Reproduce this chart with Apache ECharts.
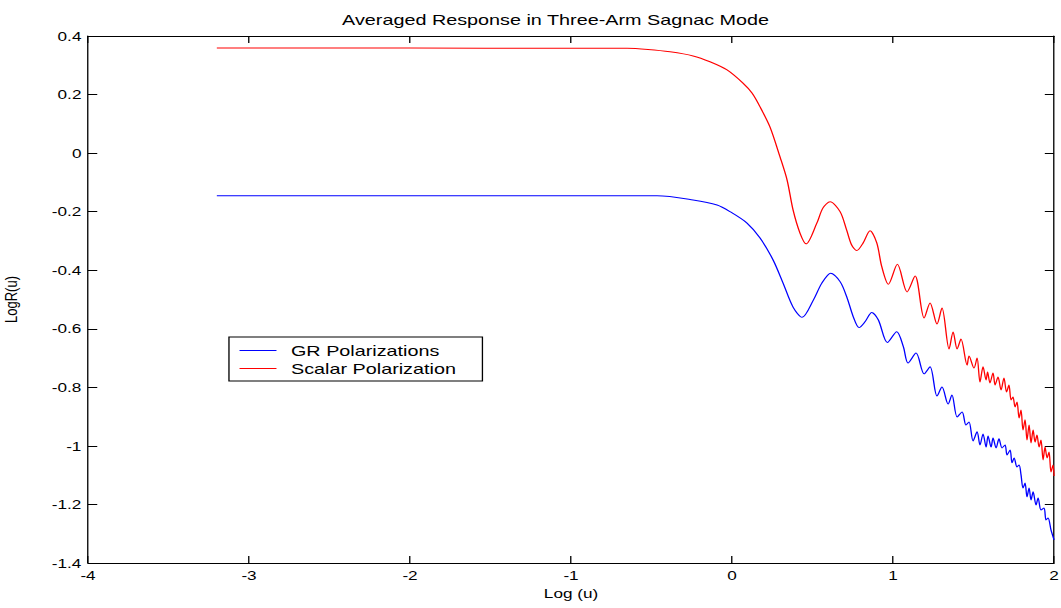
<!DOCTYPE html>
<html>
<head>
<meta charset="utf-8">
<script src="https://cdn.jsdelivr.net/npm/echarts@6/dist/echarts.min.js"></script>
<style>
html,body{margin:0;padding:0;background:#fff;overflow:hidden;}
#main{width:804px;height:608px;transform:scaleX(1.3197);transform-origin:0 0;}
</style>
</head>
<body>
<div id="main"></div>
<script>
// Data
var titleText = 'Averaged Response in Three-Arm Sagnac Mode';
var xName = 'Log (u)';
var yName = 'LogR(u)';
var seriesNames = ['GR Polarizations', 'Scalar Polarization'];

var redX = [-3.2,-2.0,-1.068,-0.652,-0.522,-0.385,-0.242,-0.137,-0.031,0.068,0.124,0.174,0.236,0.298,0.342,0.379,0.422,0.460,
  0.526,0.565,0.609,0.671,0.712,0.743,0.775,0.814,0.857,0.899,0.930,0.971,1.027,1.087,1.137,1.193,1.230,1.273,1.304,1.348,1.373,
  1.398,1.422,1.460,1.472,1.503,1.522,1.540,1.559,1.578,1.587,1.602,1.621,1.634,1.652,1.671,1.689,1.705,1.720,1.733,1.745,1.758,
  1.770,1.783,1.795,1.807,1.820,1.832,1.845,1.857,1.870,1.882,1.894,1.907,1.919,1.932,1.944,1.957,1.969,1.981,1.994,2.0];
var redY = [0.359,0.359,0.358,0.358,0.354,0.346,0.332,0.312,0.284,0.239,0.205,0.158,0.089,-0.013,-0.092,-0.194,-0.273,-0.310,
  -0.240,-0.187,-0.166,-0.200,-0.263,-0.314,-0.333,-0.307,-0.265,-0.307,-0.388,-0.448,-0.380,-0.474,-0.420,-0.563,-0.512,-0.584,-0.529,-0.669,-0.611,
  -0.669,-0.635,-0.724,-0.693,-0.734,-0.700,-0.782,-0.730,-0.775,-0.748,-0.785,-0.751,-0.792,-0.765,-0.809,-0.768,-0.816,-0.792,-0.843,-0.833,-0.867,
  -0.850,-0.905,-0.877,-0.946,-0.911,-0.980,-0.929,-0.990,-0.946,-0.987,-0.963,-1.004,-0.980,-1.048,-1.004,-1.041,-1.021,-1.089,-1.065,-1.103];

var blueX = [-3.2,-1.0,-0.466,-0.242,-0.093,-0.012,0.093,0.174,0.255,0.317,0.379,0.435,0.505,0.557,0.613,0.671,0.712,0.753,0.789,
  0.826,0.868,0.909,0.965,1.023,1.064,1.093,1.143,1.193,1.230,1.273,1.304,1.342,1.366,1.398,1.429,1.453,1.472,1.497,1.522,1.540,
  1.559,1.578,1.590,1.609,1.621,1.640,1.658,1.677,1.696,1.708,1.727,1.739,1.752,1.770,1.783,1.795,1.807,1.820,1.832,1.845,1.857,
  1.870,1.888,1.901,1.919,1.938,1.950,1.963,1.981,2.0];
var blueY = [-0.146,-0.146,-0.146,-0.160,-0.177,-0.200,-0.239,-0.290,-0.365,-0.444,-0.526,-0.561,-0.502,-0.445,-0.410,-0.439,-0.490,-0.559,-0.596,
  -0.576,-0.544,-0.570,-0.647,-0.610,-0.661,-0.717,-0.683,-0.754,-0.730,-0.830,-0.799,-0.857,-0.826,-0.901,-0.884,-0.929,-0.918,-0.983,-0.952,-0.997,
  -0.959,-1.004,-0.966,-1.004,-0.973,-1.007,-0.976,-1.007,-0.997,-1.031,-1.014,-1.058,-1.041,-1.072,-1.065,-1.099,-1.144,-1.127,-1.174,-1.144,-1.185,
  -1.157,-1.202,-1.178,-1.219,-1.212,-1.253,-1.246,-1.287,-1.321];

function zip(xs, ys){ var out=[]; for (var i=0;i<xs.length;i++) out.push([xs[i], ys[i]]); return out; }

var FONT = '"Liberation Sans", Arial, Helvetica, sans-serif';
var chart = echarts.init(document.getElementById('main'), null, {renderer:'svg'});

var axisLine = {show:true, onZero:false, lineStyle:{color:'#000', width:1}};
var tick = {show:true, inside:true, length:7, lineStyle:{color:'#000', width:1}};

chart.setOption({
  animation:false,
  backgroundColor:'#fff',
  title:{
    text:titleText, left:421, top:12, padding:0, textAlign:'center',
    textStyle:{fontFamily:FONT, fontSize:15, fontWeight:'normal', color:'#000'}
  },
  legend:{
    data:[{name:seriesNames[0], icon:'rect'}, {name:seriesNames[1], icon:'rect'}],
    orient:'vertical', left:173.5, top:337,
    padding:[6,20,5,8], itemGap:3, itemWidth:28, itemHeight:1,
    borderColor:'#000', borderWidth:1, backgroundColor:'#fff',
    textStyle:{fontFamily:FONT, fontSize:15, color:'#000', padding:[0,0,0,6]}
  },
  grid:{left:66.7, right:5.3, top:36, bottom:45, containLabel:false, outerBoundsMode:'none'},
  xAxis:[{
    type:'value', position:'bottom', min:-4, max:2, interval:1,
    name:xName, nameLocation:'middle', nameGap:22,
    nameTextStyle:{fontFamily:FONT, fontSize:13, color:'#000'},
    axisLine:axisLine, axisTick:tick, splitLine:{show:false},
    axisLabel:{fontFamily:FONT, fontSize:13, color:'#000', margin:6}
  },{
    type:'value', position:'top', min:-4, max:2, interval:1,
    axisLine:axisLine, axisTick:tick, splitLine:{show:false}, axisLabel:{show:false}
  }],
  yAxis:[{
    type:'value', position:'left', min:-1.4, max:0.4, interval:0.2,
    name:yName, nameLocation:'middle', nameGap:52, nameRotate:90,
    nameTextStyle:{fontFamily:FONT, fontSize:13, color:'#000'},
    axisLine:axisLine, axisTick:tick, splitLine:{show:false},
    axisLabel:{fontFamily:FONT, fontSize:13, color:'#000', margin:5,
      formatter:function(v){ return String(Math.round(v*10)/10); }}
  },{
    type:'value', position:'right', min:-1.4, max:0.4, interval:0.2,
    axisLine:axisLine, axisTick:tick, splitLine:{show:false}, axisLabel:{show:false}
  }],
  series:[{
    name:seriesNames[0], type:'line', data:zip(blueX, blueY), symbol:'none', showSymbol:false,
    smooth:0.3, lineStyle:{color:'#0000ff', width:1}, itemStyle:{color:'#0000ff'}
  },{
    name:seriesNames[1], type:'line', data:zip(redX, redY), symbol:'none', showSymbol:false,
    smooth:0.3, lineStyle:{color:'#ff0000', width:1}, itemStyle:{color:'#ff0000'}
  }]
});
</script>
</body>
</html>
